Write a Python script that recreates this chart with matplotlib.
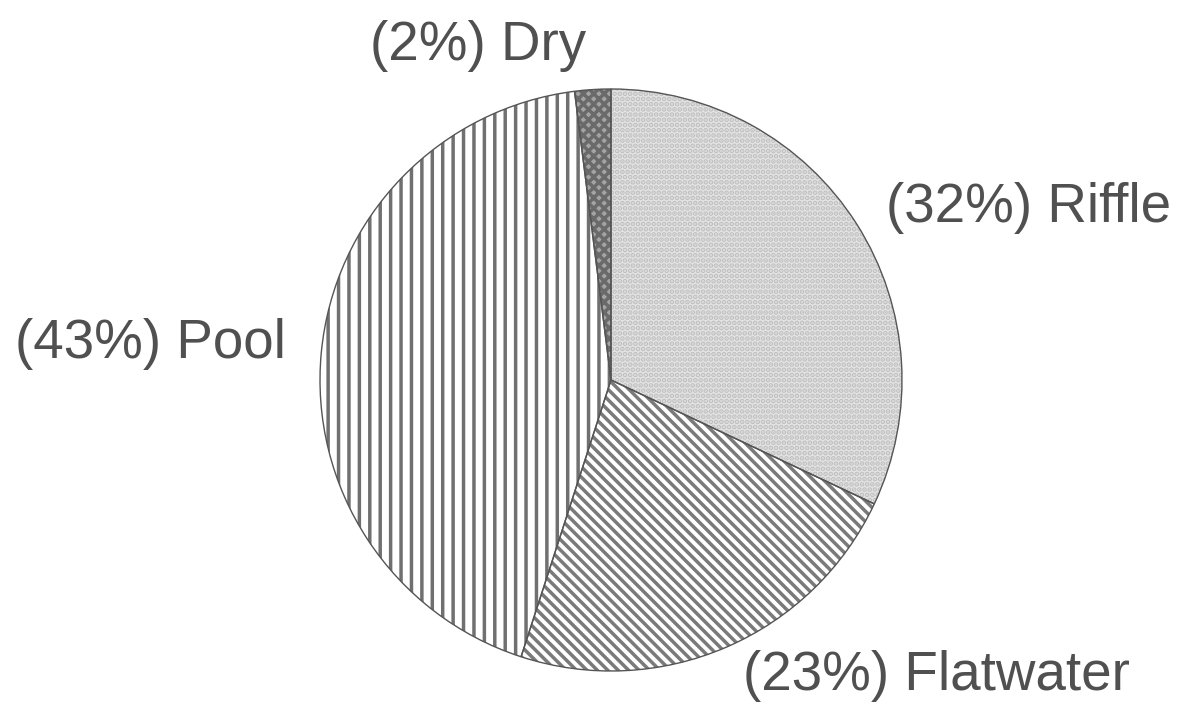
import matplotlib.pyplot as plt

# Stream habitat composition
habitats = ["Riffle", "Flatwater", "Pool", "Dry"]
shares = [32, 23, 43, 2]

# Fill style for each habitat: face, hatch pattern, hatch colour
faces = ["#e4e4e4", "white", "white", "#a4a4a4"]
hatches = ["....", "\\\\\\\\", "||", "xxxx"]
hatch_colors = ["#c0c0c0", "#7a7a7a", "#707070", "#6a6a6a"]

# Label anchor (x centre, baseline) in pixel units of the canvas
label_xy = [(1029, 480), (936, 12), (150, 344), (478, 642)]

W, H, DPI = 1182, 702, 125
plt.rcParams["hatch.linewidth"] = 2.0
plt.rcParams["font.family"] = ["Liberation Sans", "DejaVu Sans"]

fig = plt.figure(figsize=(W / DPI, H / DPI), dpi=DPI)
ax = fig.add_axes([0, 0, 1, 1])

wedges, _ = ax.pie(shares, startangle=90, counterclock=False,
                   center=(611, 322), radius=291)
for w, fc, hp, hc in zip(wedges, faces, hatches, hatch_colors):
    w.set_facecolor(fc)
    w.set_hatch(hp)
    w.set_edgecolor(hc)
    w.set_linewidth(0)

# thin outlines drawn on top of the hatched fills
outline, _ = ax.pie(shares, startangle=90, counterclock=False,
                    center=(611, 322), radius=291,
                    wedgeprops=dict(fill=False, edgecolor="#555555", linewidth=0.8))

for name, pct, (x, y) in zip(habitats, shares, label_xy):
    ax.text(x, y, f"({pct}%) {name}", ha="center", va="baseline",
            fontsize=31.5, color="#505050")

ax.set_xlim(0, W)
ax.set_ylim(0, H)
ax.set_aspect("equal")
ax.axis("off")

fig.savefig("out.png", dpi=DPI, facecolor="white")
